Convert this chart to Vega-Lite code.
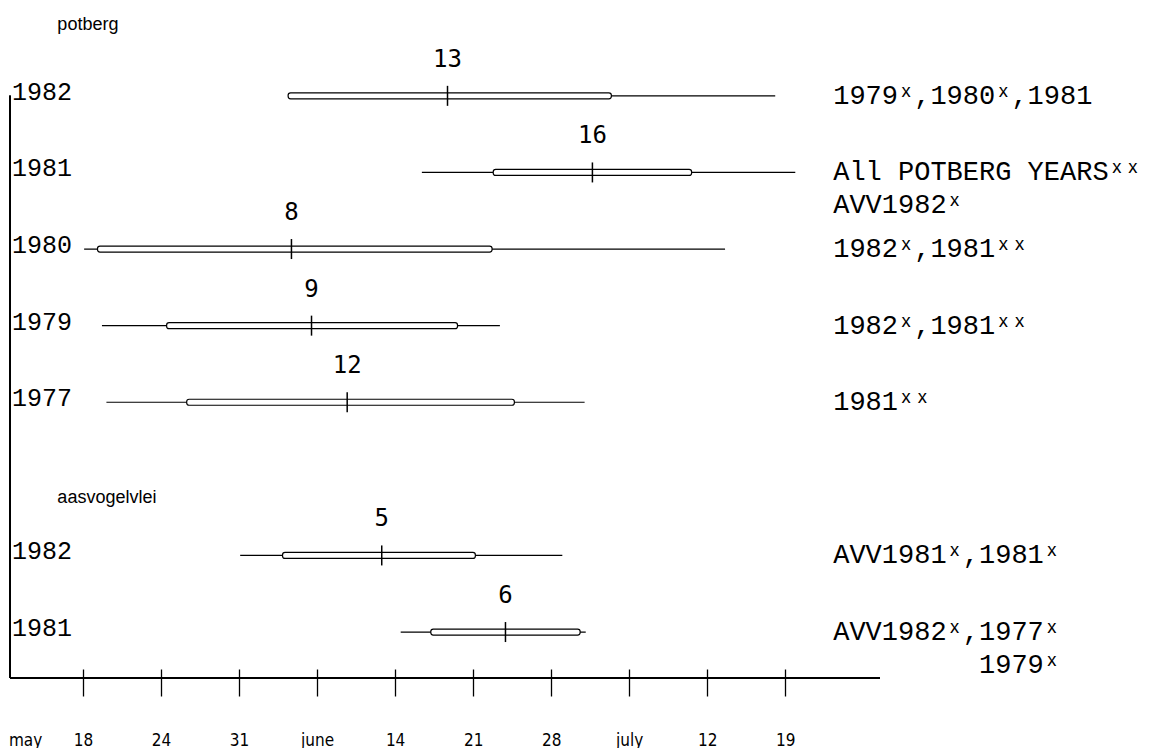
{
  "$schema": "https://vega.github.io/schema/vega-lite/v6.json",
  "autosize": "none",
  "width": 870,
  "height": 683,
  "padding": {"left": 10, "top": 0, "right": 286, "bottom": 65},
  "background": "white",
  "config": {"view": {"stroke": null}},
  "datasets": {
    "rows": [
      {"site": "potberg", "year": "1982", "row": 0, "min": 18.4, "q1": 18.4, "median": 32.7, "q3": 47.4, "max": 62.1, "n": 13, "note": "1979ˣ,1980ˣ,1981"},
      {"site": "potberg", "year": "1981", "row": 1, "min": 30.4, "q1": 36.8, "median": 45.7, "q3": 54.6, "max": 63.9, "n": 16, "note": "All POTBERG YEARSˣˣ\nAVV1982ˣ"},
      {"site": "potberg", "year": "1980", "row": 2, "min": 0.1, "q1": 1.3, "median": 18.7, "q3": 36.7, "max": 57.6, "n": 8, "note": "1982ˣ,1981ˣˣ"},
      {"site": "potberg", "year": "1979", "row": 3, "min": 1.7, "q1": 7.5, "median": 20.5, "q3": 33.6, "max": 37.4, "n": 9, "note": "1982ˣ,1981ˣˣ"},
      {"site": "potberg", "year": "1977", "row": 4, "min": 2.1, "q1": 9.3, "median": 23.7, "q3": 38.7, "max": 45.0, "n": 12, "note": "1981ˣˣ"},
      {"site": "aasvogelvlei", "year": "1982", "row": 6, "min": 14.1, "q1": 17.9, "median": 26.8, "q3": 35.2, "max": 43.0, "n": 5, "note": "AVV1981ˣ,1981ˣ"},
      {"site": "aasvogelvlei", "year": "1981", "row": 7, "min": 28.5, "q1": 31.2, "median": 37.9, "q3": 44.6, "max": 45.1, "n": 6, "note": "AVV1982ˣ,1977ˣ\n\u200b\u00a0\u00a0\u00a0\u00a0\u00a0\u00a0\u00a0\u00a0\u00a01979ˣ"}
    ],
    "groups": [
      {"label": "potberg", "row": -0.92},
      {"label": "aasvogelvlei", "row": 5.25}
    ]
  },
  "data": {"name": "rows"},
  "encoding": {
    "y": {"field": "row", "type": "quantitative", "axis": null, "scale": {"domain": [-1.186, 7.6], "reverse": true, "nice": false, "zero": false}}
  },
  "layer": [
    {
      "mark": {"type": "rule", "color": "black", "strokeWidth": 1.3},
      "encoding": {
        "x": {"datum": -6.55, "type": "quantitative", "scale": {"domain": [-6.55, 71.5], "nice": false, "zero": false},
          "axis": {
            "orient": "bottom", "offset": -14, "domain": false, "grid": false,
            "values": [-5.2, 0, 7, 14, 21, 28, 35, 42, 49, 56, 63],
            "labelExpr": "datum.value < 0 ? 'may' : ['18','24','31','june','14','21','28','july','12','19'][round(datum.value/7)]",
            "tickSize": 27, "tickColor": "black", "tickWidth": 1.3,
            "tickOpacity": {"condition": {"test": "datum.value < 0", "value": 0}, "value": 1},
            "labelPadding": 36, "labelFont": "Liberation Sans Narrow, DejaVu Sans Condensed, Liberation Sans, sans-serif",
            "labelFontSize": 17, "labelColor": "black", "labelBaseline": "top", "labelFlush": false, "labelOverlap": false, "labelBound": false,
            "title": null
          }},
        "y": {"datum": 0},
        "y2": {"datum": 7.6}
      }
    },
    {
      "mark": {"type": "rule", "color": "black", "strokeWidth": 1.3},
      "encoding": {
        "x": {"datum": -6.55},
        "x2": {"datum": 71.5},
        "y": {"datum": 7.6}
      }
    },
    {
      "mark": {"type": "rule", "color": "black", "strokeWidth": 1.2},
      "encoding": {
        "x": {"field": "min", "type": "quantitative"},
        "x2": {"field": "max"}
      }
    },
    {
      "mark": {"type": "bar", "orient": "horizontal", "size": 6, "fill": "white", "stroke": "black", "strokeWidth": 1.2, "cornerRadius": 2.5},
      "encoding": {
        "x": {"field": "q1", "type": "quantitative"},
        "x2": {"field": "q3"}
      }
    },
    {
      "mark": {"type": "tick", "orient": "vertical", "size": 20, "thickness": 1.5, "color": "black", "opacity": 1},
      "encoding": {
        "x": {"field": "median", "type": "quantitative"}
      }
    },
    {
      "mark": {"type": "text", "dy": -36, "font": "DejaVu Sans Mono", "fontSize": 24, "color": "black", "align": "center", "baseline": "middle"},
      "encoding": {
        "x": {"field": "median", "type": "quantitative"},
        "text": {"field": "n", "type": "quantitative"}
      }
    },
    {
      "mark": {"type": "text", "dx": 2, "dy": -4, "font": "Liberation Mono", "fontSize": 25, "color": "black", "align": "left", "baseline": "middle"},
      "encoding": {
        "x": {"datum": -6.55},
        "text": {"field": "year", "type": "nominal"}
      }
    },
    {
      "mark": {"type": "text", "font": "Liberation Mono", "fontSize": 27, "color": "black", "align": "left", "baseline": "middle", "lineBreak": "\n", "lineHeight": 33, "clip": false},
      "encoding": {
        "x": {"datum": 67.3},
        "text": {"field": "note", "type": "nominal"}
      }
    },
    {
      "data": {"name": "groups"},
      "mark": {"type": "text", "font": "Liberation Sans", "fontSize": 18, "color": "black", "align": "left", "baseline": "middle"},
      "encoding": {
        "x": {"datum": -2.3},
        "y": {"field": "row", "type": "quantitative"},
        "text": {"field": "label", "type": "nominal"}
      }
    }
  ]
}
